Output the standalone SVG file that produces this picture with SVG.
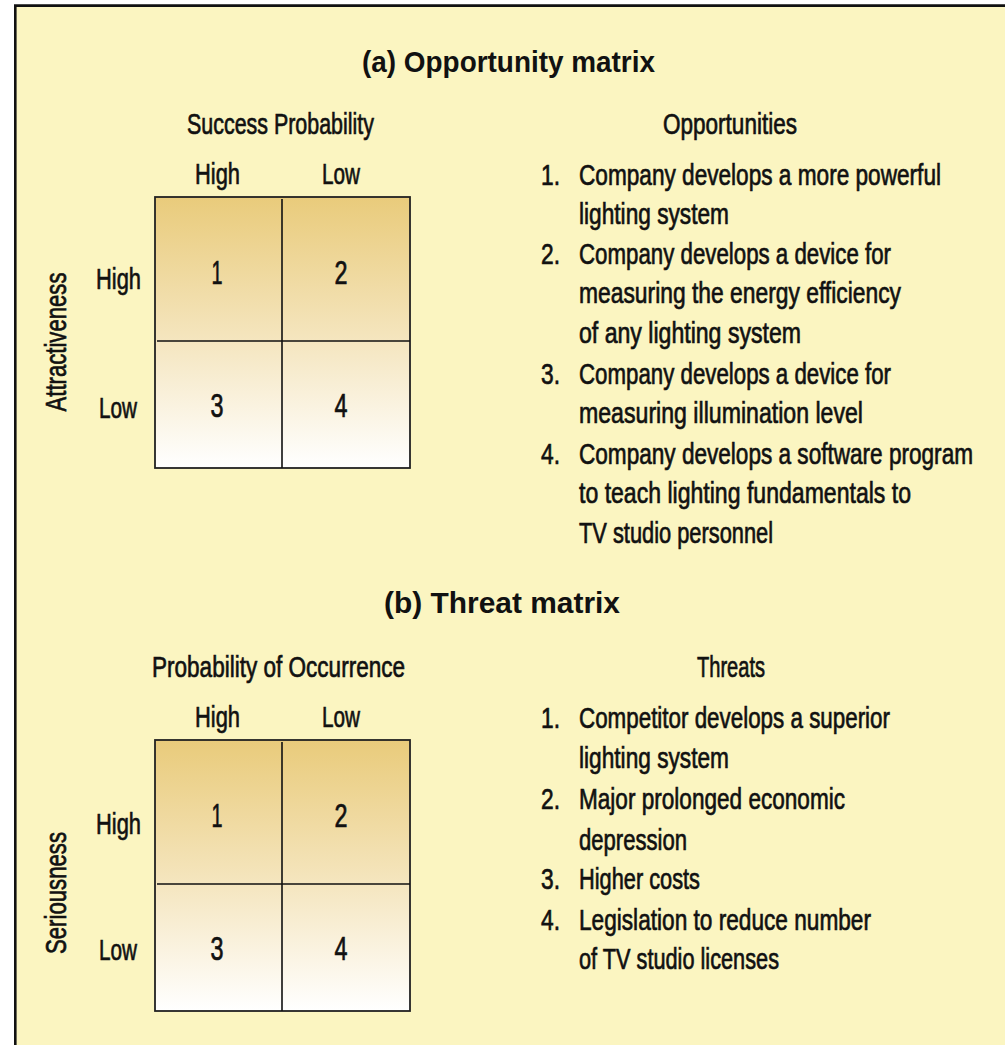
<svg xmlns="http://www.w3.org/2000/svg" width="1005" height="1045" viewBox="0 0 1005 1045">
  <defs>
    <linearGradient id="cellGrad" x1="0" y1="0" x2="0" y2="1">
      <stop offset="0" stop-color="#E9CB7B"/>
      <stop offset="0.5" stop-color="#F4E4BB"/>
      <stop offset="1" stop-color="#FFFFFF"/>
    </linearGradient>
    <style>
      text { font-family: "Liberation Sans", Arial, sans-serif; fill: #111; }
      .t { font-size: 30px; stroke: #111; stroke-width: 0.7px; }
      .h { font-size: 30px; font-weight: bold; }
      .n { font-size: 33px; stroke: #111; stroke-width: 0.7px; }
      .grid { fill: url(#cellGrad); stroke: #222; stroke-width: 1.8; }
      .div { stroke: #111; stroke-width: 1.6; fill: none; }
    </style>
  </defs>

  <rect x="0" y="0" width="1005" height="1045" fill="#FFFFFF"/>
  <rect x="15" y="5" width="990" height="1040" fill="#FBF5C1"/>
  <path d="M15.3 1045 V5.6 H1005" fill="none" stroke="#111" stroke-width="2.6"/>

  <!-- (a) Opportunity matrix -->
  <g id="title-a">
    <text class="h" x="362" y="72" textLength="293" lengthAdjust="spacingAndGlyphs">(a) Opportunity matrix</text>
  </g>

  <g id="matrix-a">
    <text class="t" x="187" y="134" textLength="187" lengthAdjust="spacingAndGlyphs">Success Probability</text>
    <text class="t" x="195" y="184" textLength="45" lengthAdjust="spacingAndGlyphs">High</text>
    <text class="t" x="322" y="184" textLength="38" lengthAdjust="spacingAndGlyphs">Low</text>
    <text class="t" x="96" y="289" textLength="45" lengthAdjust="spacingAndGlyphs">High</text>
    <text class="t" x="99" y="418" textLength="38" lengthAdjust="spacingAndGlyphs">Low</text>
    <text class="t" transform="translate(66,342) rotate(-90)" text-anchor="middle" textLength="139" lengthAdjust="spacingAndGlyphs">Attractiveness</text>
    <rect class="grid" x="155" y="197" width="255" height="271"/>
    <path class="div" d="M282 199 V468 M157 341 H410"/>
    <text class="n" x="217" y="284" text-anchor="middle" textLength="11" lengthAdjust="spacingAndGlyphs">1</text>
    <text class="n" x="341" y="284" text-anchor="middle" textLength="13" lengthAdjust="spacingAndGlyphs">2</text>
    <text class="n" x="217" y="417" text-anchor="middle" textLength="13" lengthAdjust="spacingAndGlyphs">3</text>
    <text class="n" x="341" y="417" text-anchor="middle" textLength="13" lengthAdjust="spacingAndGlyphs">4</text>
  </g>

  <g id="list-a">
    <text class="t" x="663" y="134" textLength="134" lengthAdjust="spacingAndGlyphs">Opportunities</text>
    <text class="t" x="541" y="185" textLength="19" lengthAdjust="spacingAndGlyphs">1.</text>
    <text class="t" x="579" y="185" textLength="362" lengthAdjust="spacingAndGlyphs">Company develops a more powerful</text>
    <text class="t" x="579" y="224" textLength="150" lengthAdjust="spacingAndGlyphs">lighting system</text>
    <text class="t" x="541" y="264" textLength="19" lengthAdjust="spacingAndGlyphs">2.</text>
    <text class="t" x="579" y="264" textLength="312" lengthAdjust="spacingAndGlyphs">Company develops a device for</text>
    <text class="t" x="579" y="303" textLength="322" lengthAdjust="spacingAndGlyphs">measuring the energy efficiency</text>
    <text class="t" x="579" y="343" textLength="222" lengthAdjust="spacingAndGlyphs">of any lighting system</text>
    <text class="t" x="541" y="384" textLength="19" lengthAdjust="spacingAndGlyphs">3.</text>
    <text class="t" x="579" y="384" textLength="312" lengthAdjust="spacingAndGlyphs">Company develops a device for</text>
    <text class="t" x="579" y="423" textLength="284" lengthAdjust="spacingAndGlyphs">measuring illumination level</text>
    <text class="t" x="541" y="464" textLength="19" lengthAdjust="spacingAndGlyphs">4.</text>
    <text class="t" x="579" y="464" textLength="394" lengthAdjust="spacingAndGlyphs">Company develops a software program</text>
    <text class="t" x="579" y="503" textLength="332" lengthAdjust="spacingAndGlyphs">to teach lighting fundamentals to</text>
    <text class="t" x="579" y="543" textLength="194" lengthAdjust="spacingAndGlyphs">TV studio personnel</text>
  </g>

  <!-- (b) Threat matrix -->
  <g id="title-b">
    <text class="h" x="384" y="613" textLength="236" lengthAdjust="spacingAndGlyphs">(b) Threat matrix</text>
  </g>

  <g id="matrix-b">
    <text class="t" x="152" y="677" textLength="253" lengthAdjust="spacingAndGlyphs">Probability of Occurrence</text>
    <text class="t" x="195" y="727" textLength="45" lengthAdjust="spacingAndGlyphs">High</text>
    <text class="t" x="322" y="727" textLength="38" lengthAdjust="spacingAndGlyphs">Low</text>
    <text class="t" x="96" y="834" textLength="45" lengthAdjust="spacingAndGlyphs">High</text>
    <text class="t" x="99" y="960" textLength="38" lengthAdjust="spacingAndGlyphs">Low</text>
    <text class="t" transform="translate(66,893) rotate(-90)" text-anchor="middle" textLength="122" lengthAdjust="spacingAndGlyphs">Seriousness</text>
    <rect class="grid" x="155" y="740" width="255" height="271"/>
    <path class="div" d="M282 742 V1011 M157 884 H410"/>
    <text class="n" x="217" y="827" text-anchor="middle" textLength="11" lengthAdjust="spacingAndGlyphs">1</text>
    <text class="n" x="341" y="827" text-anchor="middle" textLength="13" lengthAdjust="spacingAndGlyphs">2</text>
    <text class="n" x="217" y="960" text-anchor="middle" textLength="13" lengthAdjust="spacingAndGlyphs">3</text>
    <text class="n" x="341" y="960" text-anchor="middle" textLength="13" lengthAdjust="spacingAndGlyphs">4</text>
  </g>

  <g id="list-b">
    <text class="t" x="697" y="677" textLength="68" lengthAdjust="spacingAndGlyphs">Threats</text>
    <text class="t" x="541" y="728" textLength="19" lengthAdjust="spacingAndGlyphs">1.</text>
    <text class="t" x="579" y="728" textLength="311" lengthAdjust="spacingAndGlyphs">Competitor develops a superior</text>
    <text class="t" x="579" y="768" textLength="150" lengthAdjust="spacingAndGlyphs">lighting system</text>
    <text class="t" x="541" y="809" textLength="19" lengthAdjust="spacingAndGlyphs">2.</text>
    <text class="t" x="579" y="809" textLength="266" lengthAdjust="spacingAndGlyphs">Major prolonged economic</text>
    <text class="t" x="579" y="850" textLength="108" lengthAdjust="spacingAndGlyphs">depression</text>
    <text class="t" x="541" y="889" textLength="19" lengthAdjust="spacingAndGlyphs">3.</text>
    <text class="t" x="579" y="889" textLength="121" lengthAdjust="spacingAndGlyphs">Higher costs</text>
    <text class="t" x="541" y="930" textLength="19" lengthAdjust="spacingAndGlyphs">4.</text>
    <text class="t" x="579" y="930" textLength="292" lengthAdjust="spacingAndGlyphs">Legislation to reduce number</text>
    <text class="t" x="579" y="969" textLength="200" lengthAdjust="spacingAndGlyphs">of TV studio licenses</text>
  </g>
</svg>
